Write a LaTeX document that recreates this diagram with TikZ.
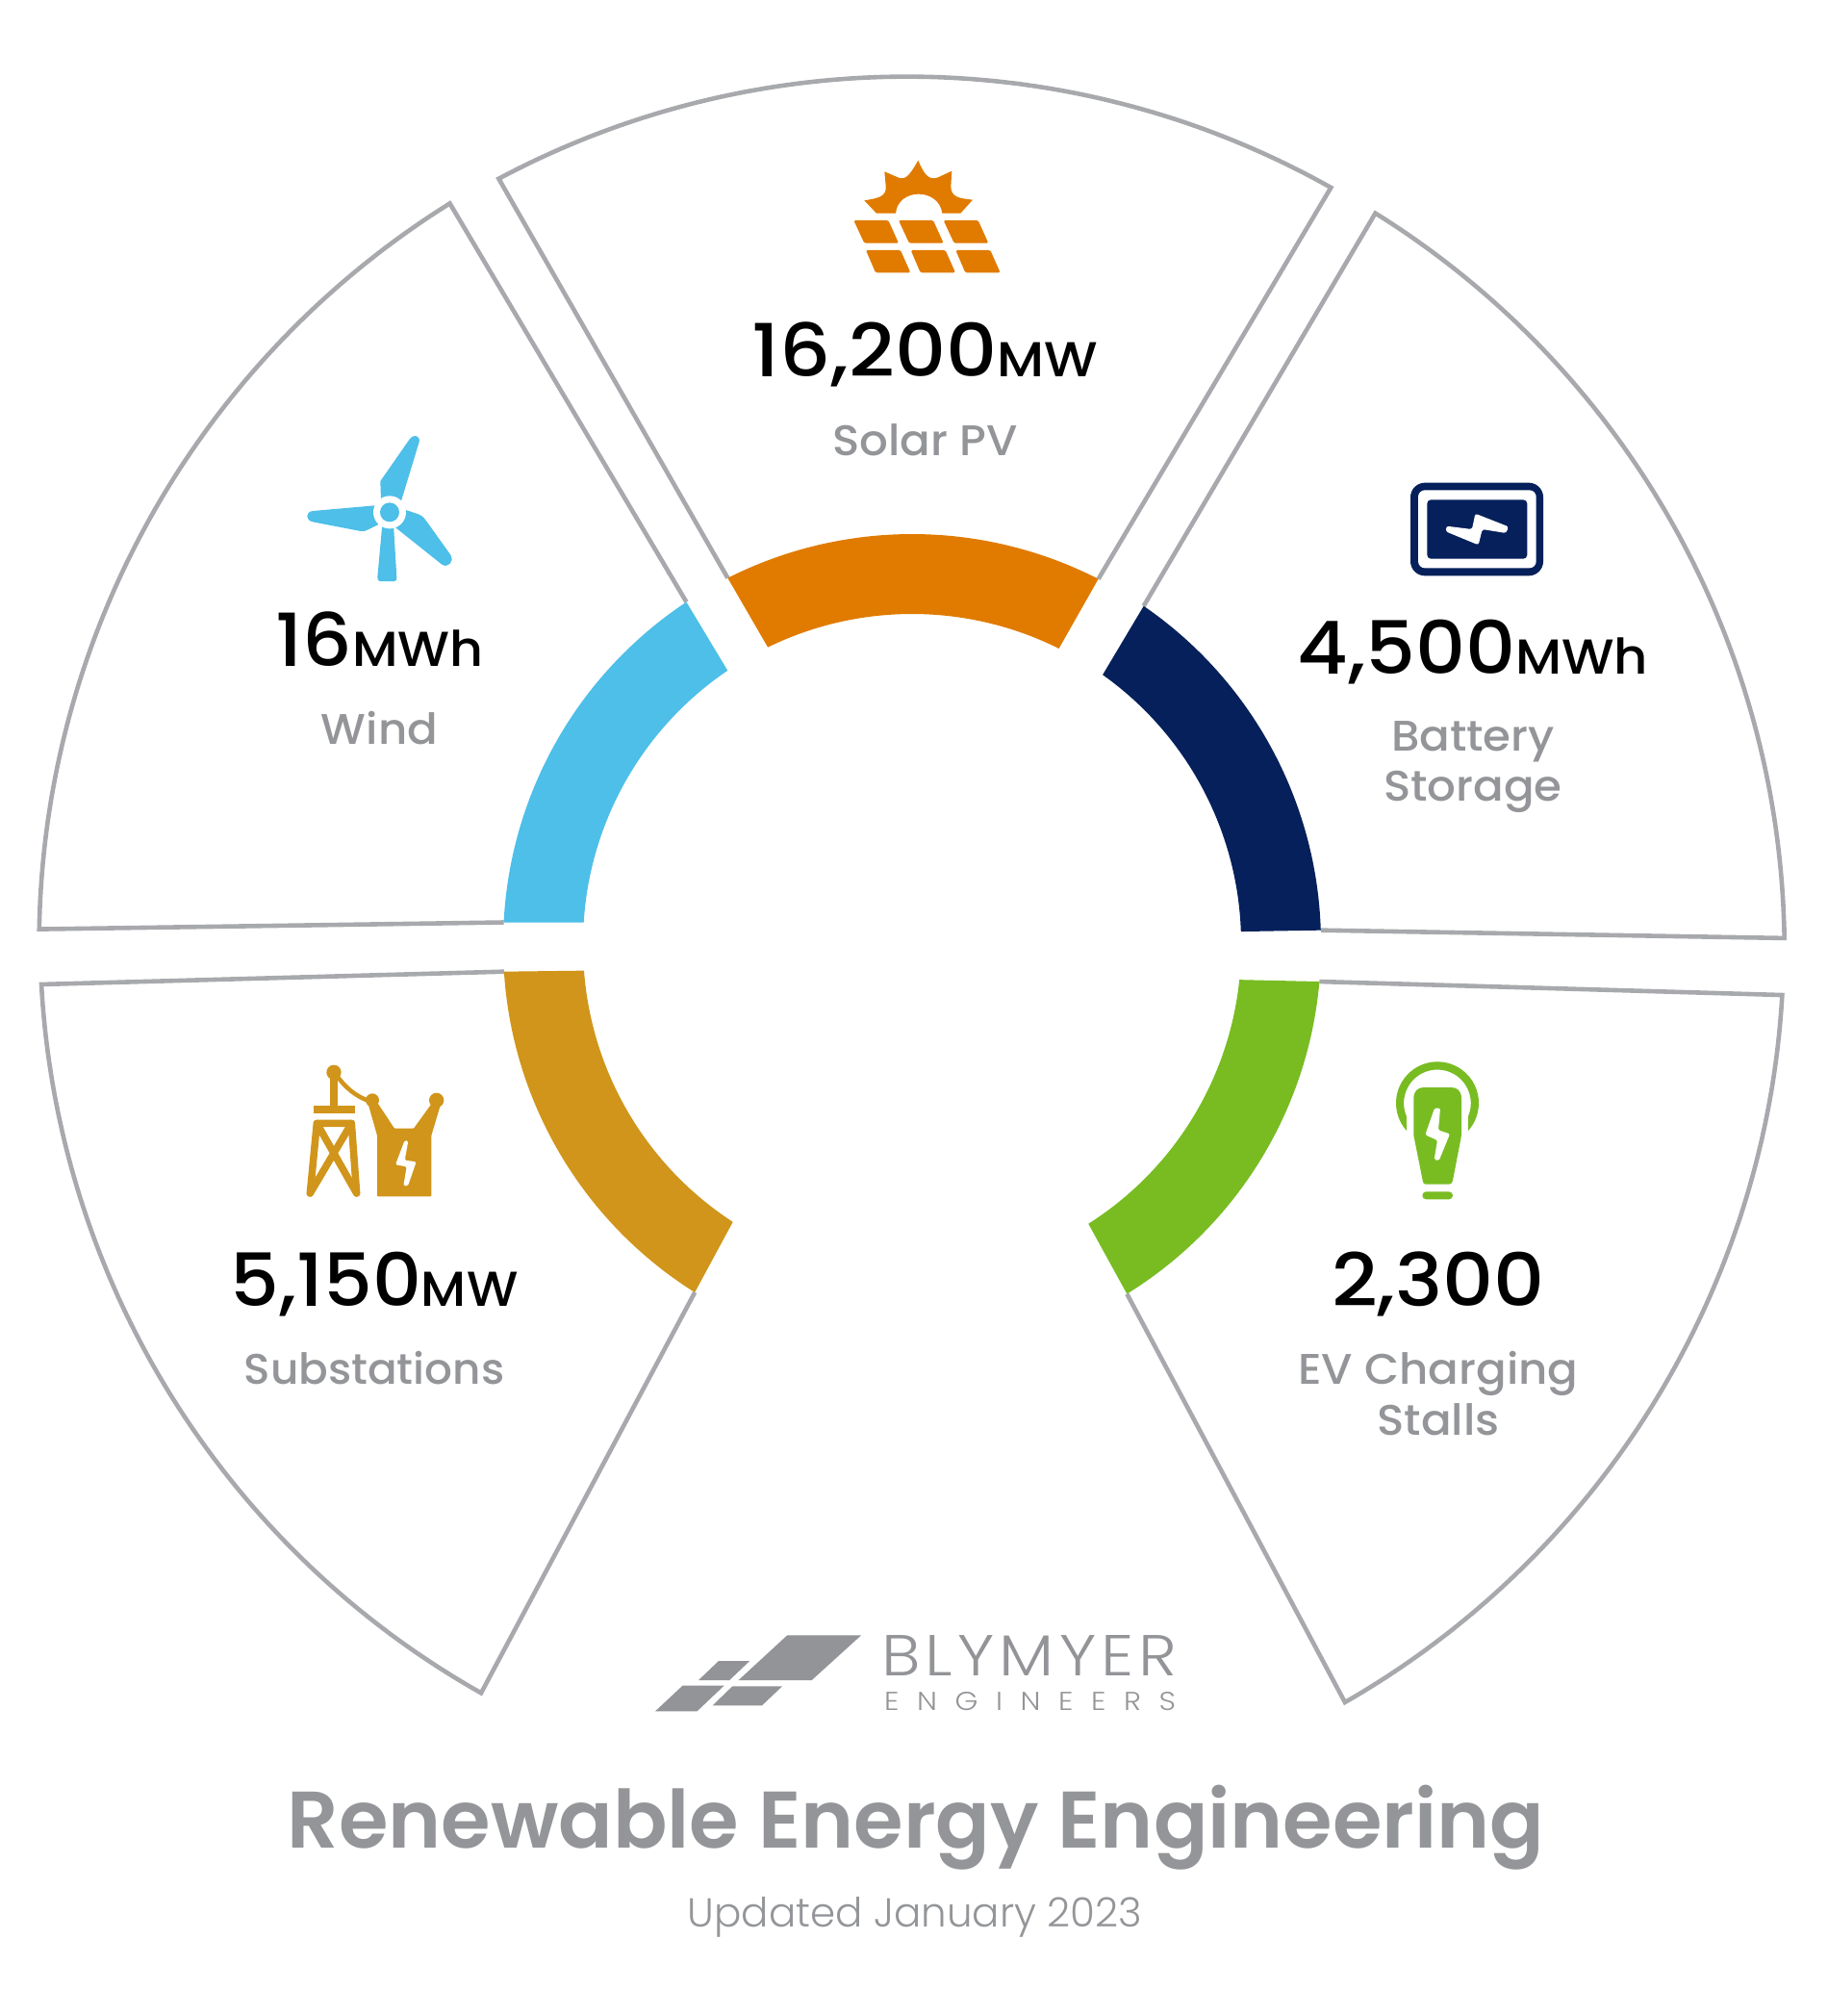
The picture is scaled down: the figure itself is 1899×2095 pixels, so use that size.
\documentclass[tikz,border=0pt]{standalone}
\usepackage{fontspec}
\setmainfont{Poppins}
\newfontfamily\medfont{Poppins Medium}
\newfontfamily\numface[FakeStretch=1.09]{Poppins Medium}
\newfontfamily\capface[FakeStretch=1.05]{Poppins Medium}
\newfontfamily\lightfont{Poppins Light}
\newfontfamily\titleface{Poppins SemiBold}
\definecolor{solarc}{HTML}{E07B00}
\definecolor{windc}{HTML}{4DBFE8}
\definecolor{battc}{HTML}{05205A}
\definecolor{subc}{HTML}{D0951A}
\definecolor{evc}{HTML}{78BC22}
\definecolor{framec}{HTML}{A7A9AC}
\definecolor{txtc}{HTML}{939598}
\definecolor{logoc}{HTML}{929497}
\tikzset{
  frameline/.style={draw=framec,line width=4.6pt,miter limit=10},
  iconscope/.style={x=0.33333pt,y=-0.33333pt},
  numtext/.style={anchor=base,inner sep=0pt,text=black,font=\numface},
  captext/.style={anchor=base,inner sep=0pt,text=txtc,font=\capface\fontsize{44.5}{44.5}\selectfont},
}
% color, outer start/end angle, inner start/end angle, centre y
\newcommand{\ringband}[6]{\fill[#1] ([shift={(#2:425)}]948,#6) arc (#2:#3:425) -- ([shift={(#5:342)}]948,#6) arc (#5:#4:342) -- cycle;}
% ring angle 1, corner angle 1, radius 1, corner angle 2, radius 2, ring angle 2, centre y
\newcommand{\sectorframe}[7]{\draw[frameline] ([shift={(#1:425)}]948,#7) -- plot[domain=#2:#4,samples=90] ({948+(#3+(#5-#3)*(\x-(#2))/((#4)-(#2)))*1.3373*cos(\x)},{980.3+(#3+(#5-#3)*(\x-(#2))/((#4)-(#2)))*1.3373*sin(\x)}) -- ([shift={(#6:425)}]948,#7);}
\newcommand{\bignum}[2]{{\fontsize{76}{76}\selectfont #1}{\fontsize{51}{51}\selectfont #2}}
\begin{document}
\begin{tikzpicture}[x=1pt,y=-1pt]
\useasboundingbox (0,0) rectangle (1899,2095);
% frames
\sectorframe{-116.8}{-118.4}{675.5}{-61.0}{671.5}{-62.9}{980}
\sectorframe{-123.5}{-122.0}{678}{-179.07}{678.5}{-177.1}{980}
\sectorframe{-55.5}{-57.6}{672}{-0.34}{678}{-1.8}{980}
\sectorframe{5.0}{3.4}{677.5}{60.3}{679}{58.3}{983}
\sectorframe{176.4}{177.3}{677.5}{119.9}{672}{122.1}{983}
% bands
\ringband{solarc}{-116.8}{-62.9}{-116}{-63.5}{980}
\ringband{windc}{-123.5}{-177.1}{-124.1}{-176.4}{980}
\ringband{battc}{-55.5}{-1.8}{-54.6}{-2.0}{980}
\ringband{evc}{5.0}{58.3}{5.9}{57.6}{983}
\ringband{subc}{176.4}{122.1}{175.7}{123}{983}
% solar icon
\begin{scope}[shift={(850,140)},iconscope]
\fill[solarc] (183,245) -- (145,205) .. controls (185,198) and (215,195) .. (212,160) -- (208,115) -- (250,133) .. controls (275,145) and (290,120) .. (313,80) .. controls (330,120) and (345,145) .. (375,133) -- (418,113) -- (415,160) .. controls (415,195) and (440,198) .. (483,203) -- (445,245) -- (388,245) .. controls (378,165) and (250,165) .. (243,245) -- cycle;
\foreach \dx in {0,140,280}{
 \fill[solarc,rounded corners=1.5pt] ({112+\dx},267) -- ({220+\dx},267) -- ({252+\dx},338) -- ({145+\dx},338) -- cycle;
 \fill[solarc,rounded corners=1.5pt] ({150+\dx},360) -- ({258+\dx},360) -- ({289+\dx},430) -- ({180+\dx},430) -- cycle;
}
\end{scope}
% wind icon
\begin{scope}[shift={(300,430)},iconscope]
\fill[windc] (288,270) -- (286,210) -- (378,78) .. controls (388,62) and (412,68) .. (407,88) -- (350,275) -- cycle;
\fill[windc] (280,285) -- (75,303) .. controls (52,306) and (52,332) .. (75,337) -- (225,366) .. controls (235,367) and (240,365) .. (250,360) -- (290,340) -- cycle;
\fill[windc] (360,298) -- (405,313) .. controls (420,320) and (425,328) .. (430,335) -- (505,440) .. controls (518,462) and (495,482) .. (478,470) -- (330,352) -- cycle;
\fill[windc] (292,345) -- (277,510) .. controls (277,518) and (280,522) .. (285,522) -- (330,522) .. controls (335,522) and (338,518) .. (337,510) -- (327,345) -- cycle;
\fill[white] (315,307) circle (51);
\fill[windc] (315,307) circle (30);
\end{scope}
% battery icon
\begin{scope}[shift={(1450,490)},iconscope]
\fill[battc,rounded corners=15pt] (48,35) rectangle (462,325);
\fill[white,rounded corners=7pt] (72,58) rectangle (440,301);
\fill[battc,rounded corners=4pt] (100,88) rectangle (412,272);
\fill[white,rounded corners=2.5pt] (160,170) -- (240,180) -- (250,131) -- (354,172) -- (346,192) -- (272,180) -- (260,229) -- (158,187) -- cycle;
\end{scope}
% substation icon
\begin{scope}[shift={(300,1090)},iconscope]
\fill[subc] (141,73) circle (23);
\fill[subc] (128,73) rectangle (154,180);
\fill[subc] (77,177) rectangle (206,201);
\draw[subc,line width=7.5pt,line join=round,line cap=round] (67,450) -- (88,232) -- (196,232) -- (212,450);
\draw[subc,line width=7.5pt,line cap=round] (88,232) -- (212,450);
\draw[subc,line width=7.5pt,line cap=round] (196,232) -- (67,450);
\draw[subc,line width=4.5pt] (148,80) .. controls (175,120) and (210,148) .. (250,162);
\fill[subc] (261,160) circle (21);
\fill[subc] (461,160) circle (23);
\fill[subc,rounded corners=1pt] (246,165) -- (276,270) -- (276,460) -- (445,460) -- (445,270) -- (475,170) -- (450,165) -- (390,248) -- (330,248) -- (275,165) -- cycle;
\fill[white,rounded corners=1.5pt] (362,285) -- (373,287) -- (362,347) -- (398,352) -- (372,427) -- (358,427) -- (368,367) -- (333,361) -- cycle;
\end{scope}
% EV icon
\begin{scope}[shift={(1430,1090)},iconscope]
\fill[evc] (192,169) ++(138:129) arc (138:402:129) -- (288,210) arc (23:-203:104.5) -- cycle;
\fill[evc] (118,155) .. controls (118,132) and (130,120) .. (150,120) -- (235,120) .. controls (255,120) and (267,132) .. (267,155) -- (267,270) -- (240,410) .. controls (238,418) and (235,422) .. (228,422) -- (155,422) .. controls (150,422) and (147,418) .. (146,410) -- (118,270) -- cycle;
\fill[evc,rounded corners=4pt] (145,445) rectangle (240,469);
\fill[white,rounded corners=1.5pt] (183,185) -- (201,185) -- (195,253) -- (231,265) -- (197,348) -- (182,345) -- (192,285) -- (154,268) -- cycle;
\end{scope}
% logo
\begin{scope}[shift={(660,1680)},x=0.375pt,y=-0.33333pt]
\fill[logoc] (422,58) -- (627,58) -- (490,198) -- (287,198) -- cycle;
\fill[logoc] (232,138) -- (318,138) -- (262,198) -- (176,198) -- cycle;
\fill[logoc] (132,215) -- (247,215) -- (172,295) -- (56,295) -- cycle;
\fill[logoc] (270,217) -- (408,217) -- (352,277) -- (215,277) -- cycle;
\end{scope}
\node[anchor=base west,inner sep=0pt,text=logoc,font=\lightfont\fontsize{60}{60}\selectfont] (logoa) at (916,1741.5) {\scalebox{1.13}[1]{\makebox[272pt][s]{B\hfill L\hfill Y\hfill M\hfill Y\hfill E\hfill R}}};
\node[anchor=base west,inner sep=0pt,text=logoc,font=\lightfont\fontsize{27}{27}\selectfont] (logob) at (919,1777.5) {\scalebox{1.13}[1]{\makebox[268pt][s]{E\hfill N\hfill G\hfill I\hfill N\hfill E\hfill E\hfill R\hfill S}}};
% numbers
\node[numtext] (n1) at (961.5,391.8) {\bignum{16,200}{MW}};
\node[captext] (c1) at (961.5,473.5) {Solar PV};
\node[numtext] (n2) at (394.5,692.7) {\scalebox{0.97}[1]{\bignum{16}{MWh}}};
\node[captext] (c2) at (394.5,773) {Wind};
\node[numtext] (n3) at (1531,700.7) {\scalebox{0.98}[1]{\bignum{4,500}{MWh}}};
\node[captext] (c3a) at (1531,780) {Battery};
\node[captext] (c3b) at (1531,832) {Storage};
\node[numtext] (n4) at (389,1357) {\scalebox{0.96}[1]{\bignum{5,150}{MW}}};
\node[captext] (c4) at (389,1438.6) {\scalebox{0.97}[1]{Substations}};
\node[numtext] (n5) at (1495,1357) {\bignum{2,300}{}};
\node[captext] (c5a) at (1495,1438.6) {EV Charging};
\node[captext] (c5b) at (1495,1491.5) {Stalls};
% title
\node[anchor=base,inner sep=0pt,text=txtc,font=\titleface\fontsize{83.4}{83.4}\selectfont] (title) at (952,1920.5) {Renewable Energy Engineering};
\node[anchor=base,inner sep=0pt,text=txtc,font=\lightfont\fontsize{42}{42}\selectfont] (sub) at (951,2002) {Updated January 2023};
\end{tikzpicture}
\end{document}
